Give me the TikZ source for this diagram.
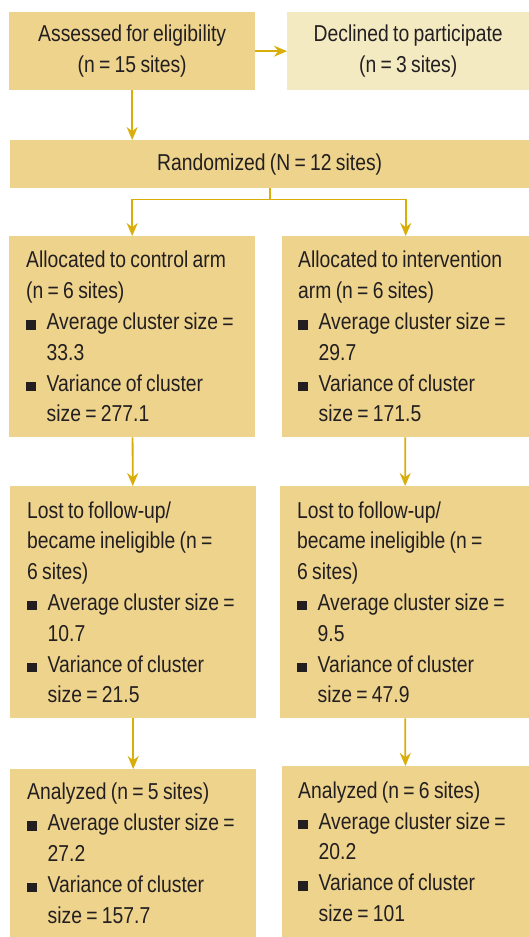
\documentclass[tikz,border=0pt]{standalone}
\usepackage{fontspec}
\setmainfont[FakeStretch=0.84, WordSpace=0.8]{Liberation Sans}
\usetikzlibrary{arrows.meta}

\definecolor{boxfill}{HTML}{EDD38C}
\definecolor{palefill}{HTML}{F3EAC2}
\definecolor{linkgold}{HTML}{D9AE0A}
\definecolor{ink}{HTML}{231F20}
\newcommand{\sqbul}{\rule{9.5pt}{9.5pt}\hspace{11pt}}
\newcommand{\cont}{\hspace*{20.5pt}}

\begin{document}
\begin{tikzpicture}[x=1pt, y=-1pt,
 card/.style={fill=boxfill, anchor=north west, inner sep=0pt},
 title/.style={text=ink, align=center, font=\fontsize{23}{30.8}\selectfont},
 body/.style={text=ink, anchor=west, align=left, inner sep=0pt, font=\fontsize{23}{30.8}\selectfont},
 link/.style={draw=linkgold, line width=1.8pt, -{Stealth[length=13pt, width=11pt]}}]
 \useasboundingbox (0,0) rectangle (529,937);

 % Top row
 \node[card, minimum width=246pt, minimum height=78pt] (assess) at (9,12) {};
 \node[title] at (assess) {Assessed for eligibility\\(n = 15 sites)};
 \node[card, fill=palefill, minimum width=242pt, minimum height=78pt] (declined) at (287,12) {};
 \node[title] at (declined) {Declined to participate\\(n = 3 sites)};

 % Randomization
 \node[card, minimum width=519pt, minimum height=48pt] (rand) at (10,140) {};
 \node[title] at (rand) {Randomized (N = 12 sites)};

 % Allocation
 \node[card, minimum width=246pt, minimum height=201pt] (ctrl) at (9,236) {};
 \node[body] at ([xshift=17pt]ctrl.west)
   {Allocated to control arm\\(n = 6 sites)\\
    \sqbul Average cluster size =\\\cont 33.3\\
    \sqbul Variance of cluster\\\cont size = 277.1};
 \node[card, minimum width=247pt, minimum height=201pt] (intv) at (282,236) {};
 \node[body] at ([xshift=16pt]intv.west)
   {Allocated to intervention\\arm (n = 6 sites)\\
    \sqbul Average cluster size =\\\cont 29.7\\
    \sqbul Variance of cluster\\\cont size = 171.5};

 % Follow-up
 \node[card, minimum width=246pt, minimum height=232pt] (lostc) at (10,486) {};
 \node[body] at ([xshift=17pt]lostc.west)
   {Lost to follow-up/\\became ineligible (n =\\6 sites)\\
    \sqbul Average cluster size =\\\cont 10.7\\
    \sqbul Variance of cluster\\\cont size = 21.5};
 \node[card, minimum width=249pt, minimum height=232pt] (losti) at (280,486) {};
 \node[body] at ([xshift=17pt]losti.west)
   {Lost to follow-up/\\became ineligible (n =\\6 sites)\\
    \sqbul Average cluster size =\\\cont 9.5\\
    \sqbul Variance of cluster\\\cont size = 47.9};

 % Analysis
 \node[card, minimum width=246pt, minimum height=168pt] (anac) at (10,769) {};
 \node[body] at ([xshift=17pt]anac.west)
   {Analyzed (n = 5 sites)\\
    \sqbul Average cluster size =\\\cont 27.2\\
    \sqbul Variance of cluster\\\cont size = 157.7};
 \node[card, minimum width=247pt, minimum height=171pt] (anai) at (282,766) {};
 \node[body] at ([xshift=16pt]anai.west)
   {Analyzed (n = 6 sites)\\
    \sqbul Average cluster size =\\\cont 20.2\\
    \sqbul Variance of cluster\\\cont size = 101};

 % Arrows
 \draw[link] (assess) -- (declined);
 \draw[link] (assess.south) -- (assess.south |- rand.north);
 \coordinate (split) at ([yshift=-11pt]rand.south);
 \draw[link] (rand.south) -- (split) -| (ctrl.north);
 \draw[link] (split) -| (intv.north);
 \draw[link] (ctrl) -- (lostc);
 \draw[link] (intv) -- (losti);
 \draw[link] (lostc) -- (anac);
 \draw[link] (losti) -- (anai);
\end{tikzpicture}
\end{document}
